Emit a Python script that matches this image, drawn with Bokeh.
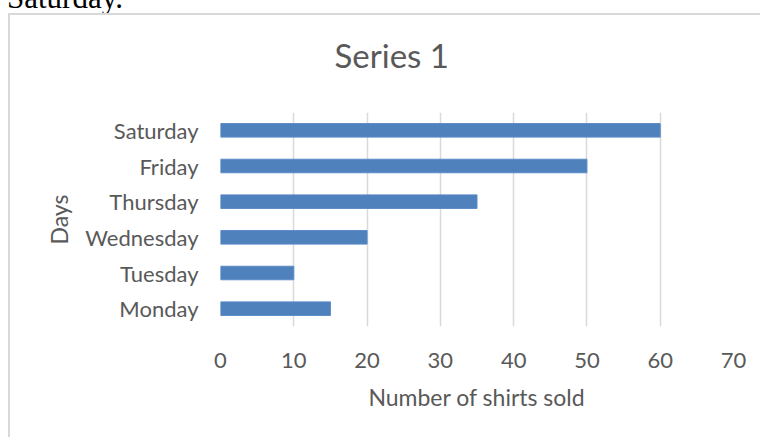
from bokeh.plotting import figure
from bokeh.models import Range1d, FactorRange, SingleIntervalTicker, ColumnDataSource, Div, Title
from bokeh.layouts import column
from bokeh.embed import file_html
from bokeh.resources import INLINE

# data
days = ["Monday", "Tuesday", "Wednesday", "Thursday", "Friday", "Saturday"]
shirts = [15, 10, 20, 35, 50, 60]
x_ticks_interval = 10
title_text = "Series 1"
x_label = "Number of shirts sold"
y_label = "Days"
page_text = "Saturday."

FONT = "Lato"
GREY = "#595959"

src = ColumnDataSource(dict(day=days, shirts=shirts))

p = figure(width=752, height=424, output_backend="svg", toolbar_location=None,
           x_range=Range1d(0, 70), y_range=FactorRange(*days, range_padding=0),
           min_border_left=210, min_border_right=29, min_border_top=97, min_border_bottom=113)
p.styles = {"border-top": "2px solid #D9D9D9", "border-left": "2px solid #D9D9D9", "margin-left": "8px"}
p.margin = 0
p.outline_line_color = None
p.background_fill_color = "white"
p.border_fill_color = "white"

p.hbar(y="day", right="shirts", height=0.38, source=src, fill_color="#4F81BD", line_color="#5B8BC6", line_width=1)

p.xaxis.ticker = SingleIntervalTicker(interval=x_ticks_interval)
p.xgrid.ticker = SingleIntervalTicker(interval=x_ticks_interval)
p.xgrid.grid_line_color = "#D9D9D9"
p.xgrid.grid_line_width = 1.5
p.ygrid.grid_line_color = None

for ax in (p.xaxis[0], p.yaxis[0]):
    ax.axis_line_color = None
    ax.major_tick_line_color = None
    ax.minor_tick_line_color = None
    ax.major_label_text_font = FONT
    ax.major_label_text_font_size = "22px"
    ax.major_label_text_color = GREY
    ax.axis_label_text_font = FONT
    ax.axis_label_text_font_size = "23px"
    ax.axis_label_text_color = GREY
    ax.axis_label_text_font_style = "normal"

p.xaxis.axis_label = x_label
p.xaxis.major_label_standoff = 20
p.xaxis.axis_label_standoff = 12
p.yaxis.axis_label = y_label
p.yaxis.major_label_standoff = 16
p.yaxis.axis_label_standoff = 9

# invisible spacer between frame and title
p.add_layout(Title(text=" ", text_font_size="1px", standoff=25), "above")

p.title.text = title_text
p.title.align = "left"
p.title.offset = 114
p.title.standoff = 20
p.title.text_font = FONT
p.title.text_font_size = "33px"
p.title.text_font_style = "normal"
p.title.text_color = GREY

div = Div(text='<span style="position:absolute; left:7px; top:-20px; font-family:\'Liberation Serif\'; '
               'font-size:31px; color:#000; white-space:nowrap; line-height:normal">' + page_text + '</span>',
          width=200, height=13, margin=0, styles={"overflow": "hidden", "position": "relative"})

layout = column(div, p, spacing=0)

open("out.html", "w").write(file_html(layout, INLINE))
